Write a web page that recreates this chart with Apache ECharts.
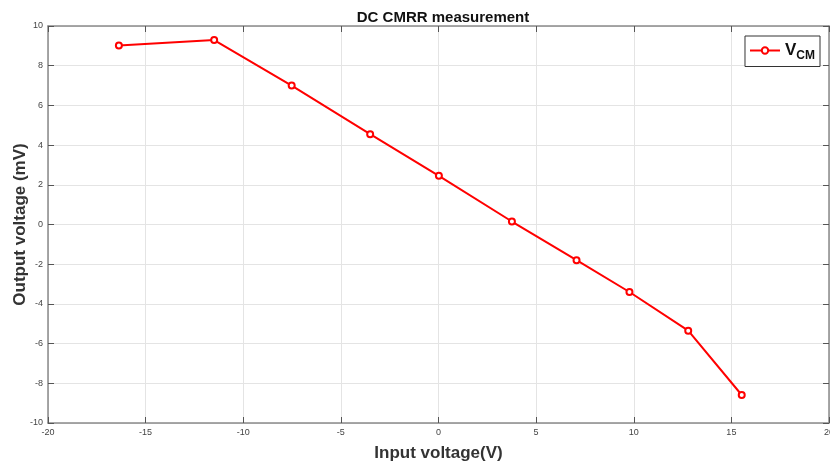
<!DOCTYPE html>
<html>
<head>
<meta charset="utf-8">
<script src="https://cdn.jsdelivr.net/npm/echarts@6/dist/echarts.min.js"></script>
<style>html,body{margin:0;padding:0;background:#fff}#c{width:830px;height:465px}</style>
</head>
<body>
<div id="c"></div>
<script>
const inputVoltage = [-16.37, -11.49, -7.52, -3.5, 0.02, 3.76, 7.07, 9.78, 12.79, 15.53];
const outputVoltage = [9.02, 9.29, 7.0, 4.55, 2.45, 0.15, -1.8, -3.4, -5.35, -8.59];
const seriesName = 'VCM';
const titleText = 'DC CMRR measurement';
const xName = 'Input voltage(V)';
const yName = 'Output voltage (mV)';

const FONT = '"Liberation Sans", Arial, Helvetica, sans-serif';
const chart = echarts.init(document.getElementById('c'));
const axisLineStyle = {color: '#8a8a8a', width: 1.5};
const tickStyle = {color: '#555', width: 1};
const splitStyle = {color: '#e4e4e4', width: 1};

const data = inputVoltage.map((x, i) => [x, outputVoltage[i]]);

chart.setOption({
  animation: false,
  backgroundColor: '#fff',
  title: {
    text: titleText, left: 438, top: 5, textAlign: 'center',
    textStyle: {fontFamily: FONT, fontSize: 15, fontWeight: 'bold', color: '#111'}
  },
  grid: {left: 48, top: 26, right: 1, bottom: 42, containLabel: false, outerBoundsMode: 'none'},
  legend: {
    right: 10, top: 36,
    borderColor: '#333', borderWidth: 1, backgroundColor: '#fff',
    padding: [6, 5, 5, 4], itemWidth: 30, itemHeight: 8, itemGap: 4,
    formatter: () => '{v|V}{s|CM}',
    textStyle: {
      fontFamily: FONT,
      rich: {
        v: {fontSize: 17, fontWeight: 'bold', color: '#111', fontFamily: FONT},
        s: {fontSize: 12, fontWeight: 'bold', color: '#111', fontFamily: FONT, padding: [10, 0, 0, 0]}
      }
    },
    data: [seriesName]
  },
  xAxis: [{
    type: 'value', min: -20, max: 20, interval: 5, position: 'bottom',
    name: xName, nameLocation: 'middle', nameGap: 22, nameMoveOverlap: false,
    nameTextStyle: {fontFamily: FONT, fontSize: 17, fontWeight: 'bold', color: '#333'},
    axisLine: {show: true, onZero: false, lineStyle: axisLineStyle},
    axisTick: {show: true, inside: true, length: 6, lineStyle: tickStyle},
    axisLabel: {fontFamily: FONT, fontSize: 9, color: '#444', margin: 5},
    splitLine: {show: true, lineStyle: splitStyle}
  }, {
    type: 'value', min: -20, max: 20, interval: 5, position: 'top',
    axisLine: {show: true, onZero: false, lineStyle: axisLineStyle},
    axisTick: {show: true, inside: true, length: 6, lineStyle: tickStyle},
    axisLabel: {show: false}, splitLine: {show: false}
  }],
  yAxis: [{
    type: 'value', min: -10, max: 10, interval: 2, position: 'left',
    name: yName, nameLocation: 'middle', nameGap: 19, nameRotate: 90, nameMoveOverlap: false,
    nameTextStyle: {fontFamily: FONT, fontSize: 17, fontWeight: 'bold', color: '#333'},
    axisLine: {show: true, onZero: false, lineStyle: axisLineStyle},
    axisTick: {show: true, inside: true, length: 6, lineStyle: tickStyle},
    axisLabel: {fontFamily: FONT, fontSize: 9, color: '#444', margin: 5},
    splitLine: {show: true, lineStyle: splitStyle}
  }, {
    type: 'value', min: -10, max: 10, interval: 2, position: 'right',
    axisLine: {show: true, onZero: false, lineStyle: axisLineStyle},
    axisTick: {show: true, inside: true, length: 6, lineStyle: tickStyle},
    axisLabel: {show: false}, splitLine: {show: false}
  }],
  series: [{
    name: seriesName, type: 'line', data: data,
    xAxisIndex: 0, yAxisIndex: 0,
    symbol: 'circle', symbolSize: 6, showAllSymbol: true,
    itemStyle: {color: '#fff', borderColor: '#ff0000', borderWidth: 2},
    lineStyle: {color: '#ff0000', width: 2},
    emphasis: {disabled: true}
  }]
});
</script>
</body>
</html>
